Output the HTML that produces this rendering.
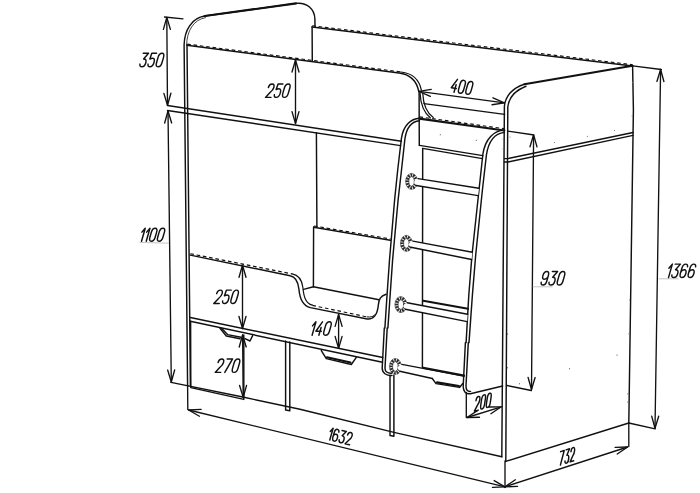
<!DOCTYPE html>
<html><head><meta charset="utf-8"><title>Bunk bed drawing</title>
<style>
html,body{margin:0;padding:0;background:#fff;font-family:"Liberation Sans",sans-serif;}
svg{display:block}
</style></head><body>
<svg width="700" height="493" viewBox="0 0 700 493">
<rect width="700" height="493" fill="#fff"/>
<g fill="none" stroke="#111" stroke-width="1.45" stroke-linecap="round" stroke-linejoin="round">
<path d="M187.6,386 L184.1,45 C184.4,30 192,17.8 204.7,16 L296.1,3.4 C307,2.2 314.6,9 314.9,19 L315.0,26.6"/>
<path d="M186.6,45 C186.8,31 193.5,19.6 205.5,17.6" stroke-width="0.8"/>
<path d="M187.0,45 L190.4,386"/>
<path d="M312.07,27.05 L632.57,66.05" stroke-width="1.5"/>
<path d="M312.23,25.76 L632.73,64.76" stroke-width="1.15" stroke-linecap="butt" stroke-dasharray="3.6 2.8"/>
<path d="M312.1,26.8 L312.3,61"/>
<path d="M187,45.2 L399,72.9 C408,74.0 416.0,78 418.8,91.4" stroke-width="1.5"/>
<path d="M187.2,44.1 L401,72.0" stroke-width="1.15" stroke-linecap="butt" stroke-dasharray="3.6 2.8"/>
<path d="M401,72.0 C411,73.1 418.8,77.5 421.4,90.2" stroke-width="1.25"/>
<path d="M419.1,91.4 L419.3,145.4"/>
<path d="M420,92.8 C420.5,103 424,113 430.5,117.9" stroke-width="1.25"/>
<path d="M422.8,93.7 C423.2,103 426.5,112.5 433.3,117.4" stroke-width="1.25"/>
<path d="M424,103.6 L504.6,114.4"/>
<path d="M167.5,105.5 L401.4,141.3"/>
<path d="M167.5,110.5 L400.6,145.6"/>
<path d="M316.4,132.6 L316.9,226.5"/>
<path d="M313.76,227.25 L390.26,240.25" stroke-width="1.5"/>
<path d="M313.98,225.96 L390.48,238.96" stroke-width="1.15" stroke-linecap="butt" stroke-dasharray="3.6 2.8"/>
<path d="M313.6,227 L313.4,286.8"/>
<path d="M190.3,255.1 L290.1,275.7 C296.5,277 298.3,283 298.9,289 C299.6,297 301.5,305.6 310.4,307.6 L366,318.8 C374,320.4 377.5,314 378.3,305.3 C378.8,299 380.5,296 386.1,294.2"/>
<path d="M190.3,253.7 L292.2,273.9" stroke-width="1.15" stroke-linecap="butt" stroke-dasharray="3.6 2.8"/>
<path d="M292.2,273.9 C299.5,275.3 302,281 302.8,287 C303.6,295 305,303.5 312.4,305.2" stroke-width="1.2"/>
<path d="M312.4,305.4 L367,316.9" stroke-width="1.15" stroke-linecap="butt" stroke-dasharray="3.6 2.8"/>
<path d="M367,316.9 C371,317.5 373.5,316.6 375,314.5" stroke-width="1.0"/>
<path d="M303.6,289.4 L313.4,286.8 L379,299.8"/>
<path d="M190.3,317.5 L382.7,357.5"/>
<path d="M190.3,321.3 L382.4,362.3"/>
<path d="M190.6,321.3 L190.8,387.6 L243.8,399.4 L243.8,335"/>
<path d="M220,328.2 L226.3,336 L240,338.8"/>
<path d="M221.8,328.6 L227.5,334.6 L241,337.2"/>
<path d="M245,338.7 L250,341 L252.6,335.6"/>
<path d="M285.6,341 L285.6,410 L289.8,410.8 L289.8,342"/>
<path d="M321.3,350.6 L326.3,358.6 L351.3,364.5 L356.3,357.4"/>
<path d="M390,375.5 L390,435.5 L393.9,436.2 L393.9,375.3"/>
<path d="M171,382.4 L244,397.3 L300,409.3 L395,432.6 L501.8,456.8"/>
<path d="M419.5,118.3 C411,118.8 403.4,125 401.4,138.5 L397.7,170 L394.6,200 L389.5,260 L386.7,300 L384.9,328 L384.3,328 L382.2,368 C382,373 386.5,375.8 392,375.5"/>
<path d="M419.5,120.8 C412.5,121.4 406.6,127 404.9,139 L401.5,170 L398.1,200 L392.6,260 L389.8,300 L387.9,328 L387.2,328 L385,368 C384.9,371.6 387.5,373.4 391.5,373.2"/>
<path d="M419.27,118.65 L504.37,130.45" stroke-width="2.1"/>
<path d="M419.51,116.91 L504.61,128.71" stroke-width="1.15" stroke-linecap="butt" stroke-dasharray="3.6 2.8"/>
<path d="M419.5,145.4 L482.8,155.6"/>
<path d="M422.7,148.4 L482.4,158.6"/>
<path d="M422.7,148.4 L422.4,367.5"/>
<path d="M504.4,129.9 C494,130.8 485.3,138.5 482.9,154 L479,190 L472,255 L468.8,295 L466.1,342.6 L465.4,342.6 L463.2,386 C463,391.5 466,394.4 470.4,393.7 L502.6,386"/>
<path d="M504.4,132.4 C495.5,133.4 488.6,140.5 486.4,155 L482.4,190 L475.7,255 L472.4,295 L469,342.6 L468.3,342.6 L466,386 C465.9,390 467.5,391.6 470.5,391.4"/>
<ellipse cx="411.59999999999997" cy="181.4" rx="4.4" ry="6.4" stroke="#2a2a2a" stroke-width="3.4" stroke-linecap="butt" stroke-dasharray="1.75 0.9"/>
<ellipse cx="411.59999999999997" cy="181.4" rx="6.0" ry="8.0" stroke="#555" stroke-width="0.6"/>
<ellipse cx="411.59999999999997" cy="181.4" rx="2.8" ry="4.8" stroke="#333" stroke-width="0.7"/>
<path d="M478.9,188.2 L417.1,178.45 Q411.0,182.0 417.1,185.65 L478.2,195.6 Z" fill="#fff" stroke="none"/>
<path d="M418.1,178.6 L478.9,188.2"/>
<path d="M416.1,185.5 L478.2,195.6"/>
<ellipse cx="406.4" cy="243.4" rx="4.4" ry="6.4" stroke="#2a2a2a" stroke-width="3.4" stroke-linecap="butt" stroke-dasharray="1.75 0.9"/>
<ellipse cx="406.4" cy="243.4" rx="6.0" ry="8.0" stroke="#555" stroke-width="0.6"/>
<ellipse cx="406.4" cy="243.4" rx="2.8" ry="4.8" stroke="#333" stroke-width="0.7"/>
<path d="M472.4,252.2 L411.9,240.95 Q405.79999999999995,244.14999999999998 411.9,247.45 L471.6,259.5 Z" fill="#fff" stroke="none"/>
<path d="M412.9,241.1 L472.4,252.2"/>
<path d="M410.9,247.29999999999998 L471.6,259.5"/>
<ellipse cx="400.9" cy="304.6" rx="4.4" ry="6.4" stroke="#2a2a2a" stroke-width="3.4" stroke-linecap="butt" stroke-dasharray="1.75 0.9"/>
<ellipse cx="400.9" cy="304.6" rx="6.0" ry="8.0" stroke="#555" stroke-width="0.6"/>
<ellipse cx="400.9" cy="304.6" rx="2.8" ry="4.8" stroke="#333" stroke-width="0.7"/>
<path d="M467.6,314.2 L406.3,302.65 Q400.2,305.99999999999994 406.3,309.45 L467.2,321.6 Z" fill="#fff" stroke="none"/>
<path d="M407.3,302.79999999999995 L467.6,314.2"/>
<path d="M405.3,309.3 L467.2,321.6"/>
<ellipse cx="395.4" cy="366.5" rx="4.4" ry="6.4" stroke="#2a2a2a" stroke-width="3.4" stroke-linecap="butt" stroke-dasharray="1.75 0.9"/>
<ellipse cx="395.4" cy="366.5" rx="6.0" ry="8.0" stroke="#555" stroke-width="0.6"/>
<ellipse cx="395.4" cy="366.5" rx="2.8" ry="4.8" stroke="#333" stroke-width="0.7"/>
<path d="M464,376.1 L400.8,364.25 Q394.7,367.8 400.8,371.45 L432.3,378.5 Z" fill="#fff" stroke="none"/>
<path d="M401.8,364.4 L464,376.1"/>
<path d="M399.8,371.3 L432.3,378.5"/>
<path d="M432.3,378.5 L436,383.6 L459.5,387.4 L462.8,383.6"/>
<path d="M501.8,456.8 L504.4,106 C505.5,96 513,87.5 524.3,84.2"/>
<path d="M505.8,461.4 L507.8,107 C508.8,98 515,90.5 526,86.2"/>
<path d="M632.6,65.8 L633.4,110 L628.8,423 L505.8,461.4"/>
<path d="M504.4,158.6 L508,158.6 L633,132.5"/>
<path d="M504.4,162 L508,162 L633,135.4"/>
<path d="M507.8,131.1 L532.5,134.8"/>
<path d="M507,385.5 L531.3,390.5"/>
<circle cx="440.3" cy="134.8" r="0.55" fill="#333" stroke="none"/>
<circle cx="476.3" cy="140.2" r="0.55" fill="#333" stroke="none"/>
<circle cx="617" cy="355" r="0.55" fill="#333" stroke="none"/>
<circle cx="569.5" cy="368.8" r="0.55" fill="#333" stroke="none"/>
<circle cx="507.6" cy="334" r="0.55" fill="#333" stroke="none"/>
<circle cx="507.6" cy="367.8" r="0.55" fill="#333" stroke="none"/>
<circle cx="519.5" cy="383.8" r="0.55" fill="#333" stroke="none"/>
<circle cx="632.6" cy="82.5" r="0.6" fill="#777" stroke="none"/>
<circle cx="632.1" cy="116" r="0.6" fill="#777" stroke="none"/>
<circle cx="629.6" cy="300" r="0.6" fill="#777" stroke="none"/>
<circle cx="628.9" cy="333.8" r="0.6" fill="#777" stroke="none"/>
<circle cx="627.6" cy="393.8" r="0.6" fill="#777" stroke="none"/>
<circle cx="627.5" cy="402" r="0.6" fill="#777" stroke="none"/>
<circle cx="503.1" cy="139.1" r="0.6" fill="#777" stroke="none"/>
<circle cx="503.1" cy="148.8" r="0.6" fill="#777" stroke="none"/>
<circle cx="510" cy="137" r="0.6" fill="#777" stroke="none"/>
<circle cx="587.5" cy="136.3" r="0.6" fill="#777" stroke="none"/>
<circle cx="614.5" cy="130.5" r="0.6" fill="#777" stroke="none"/>
<circle cx="554.5" cy="142.5" r="0.6" fill="#777" stroke="none"/>
</g>
<g fill="none" stroke="#111" stroke-width="2.1" stroke-linecap="round" stroke-linejoin="round">
<path d="M204.7,16 L296.1,3.4"/>
<path d="M327,357.2 L350.5,362.6"/>
<path d="M423.2,300.7 L468,308.7"/>
<path d="M423.2,367.7 L464,375.6"/>
<path d="M437,382.4 L459,386"/>
<path d="M524.3,84.2 L632.6,65.8"/>
</g>
<g fill="none" stroke="#111" stroke-width="1.35" stroke-linecap="round" stroke-linejoin="round">
<path d="M164.5,17 L183,18.8"/>
<path d="M166.8,17.4 L167.5,105.3"/><path d="M170.40,29.37 L166.80,17.40 L163.40,29.43"/><path d="M163.90,93.33 L167.50,105.30 L170.90,93.27"/>
<path d="M295.5,60 L295.5,123.6"/><path d="M299.00,72.00 L295.50,60.00 L292.00,72.00"/><path d="M292.00,111.60 L295.50,123.60 L299.00,111.60"/>
<path d="M168,111 L171.3,382"/><path d="M171.65,122.96 L168.00,111.00 L164.65,123.04"/><path d="M167.65,370.04 L171.30,382.00 L174.65,369.96"/>
<path d="M140,242.4 L168.5,243.2" stroke-width="0.7" stroke="#aaa"/>
<path d="M242.5,265.3 L242.5,328.5"/><path d="M246.00,277.30 L242.50,265.30 L239.00,277.30"/><path d="M239.00,316.50 L242.50,328.50 L246.00,316.50"/>
<path d="M242.6,335 L243.2,397.4"/><path d="M246.22,346.97 L242.60,335.00 L239.22,347.03"/><path d="M239.58,385.43 L243.20,397.40 L246.58,385.37"/>
<path d="M338.6,314.4 L338.6,348.4"/><path d="M342.10,326.40 L338.60,314.40 L335.10,326.40"/><path d="M335.10,336.40 L338.60,348.40 L342.10,336.40"/>
<path d="M418.9,91.3 L504.4,102.9"/><path d="M431.26,89.45 L418.90,91.30 L430.32,96.38"/><path d="M492.04,104.75 L504.40,102.90 L492.98,97.82"/>
<path d="M533.6,134.8 L531.5,389.5"/><path d="M537.00,146.83 L533.60,134.80 L530.00,146.77"/><path d="M528.10,377.47 L531.50,389.50 L535.10,377.53"/>
<path d="M533,286.8 L552,286.8" stroke-width="0.7" stroke="#aaa"/>
<path d="M632.6,65.8 L661.3,69.5"/>
<path d="M628.8,423 L655.2,428.8"/>
<path d="M660.6,69.5 L655,428.2"/><path d="M663.91,81.55 L660.60,69.50 L656.91,81.44"/><path d="M651.69,416.15 L655.00,428.20 L658.69,416.26"/>
<path d="M659,278.8 L678,278.8" stroke-width="0.7" stroke="#aaa"/>
<path d="M187.6,386 L187.8,409.5"/>
<path d="M505,461 L505,487.5"/>
<path d="M188.6,410.0 L505,486.8"/><path d="M201.09,409.43 L188.60,410.00 L199.44,416.23"/><path d="M492.51,487.37 L505.00,486.80 L494.16,480.57"/>
<path d="M628.8,423 L628.8,446.5"/>
<path d="M505,486.8 L627.6,447"/><path d="M515.33,479.77 L505.00,486.80 L517.49,486.42"/><path d="M617.27,454.03 L627.60,447.00 L615.11,447.38"/>
<path d="M466.3,392.5 L466.3,417.5"/>
<path d="M467,417.5 L501.3,406.8"/><path d="M477.41,410.59 L467.00,417.50 L479.50,417.27"/><path d="M490.89,413.71 L501.30,406.80 L488.80,407.03"/>
</g>
<g transform="matrix(10.9200,0.0000,-3.8589,13.4577,143.059,53.342)" fill="none" stroke="#111" stroke-width="1.45" stroke-linecap="round" stroke-linejoin="round"><path vector-effect="non-scaling-stroke" transform="translate(0.000,0)" d="M0.02,0 L0.5,0 L0.2,0.42 Q0.5,0.42 0.5,0.7 Q0.5,1 0.25,1 Q0.02,1 0,0.8"/><path vector-effect="non-scaling-stroke" transform="translate(0.740,0)" d="M0.5,0 L0.06,0 L0.03,0.42 Q0.14,0.36 0.27,0.36 Q0.5,0.36 0.5,0.68 Q0.5,1 0.25,1 Q0.02,1 0,0.8"/><path vector-effect="non-scaling-stroke" transform="translate(1.480,0)" d="M0,0.3 Q0,0 0.25,0 Q0.5,0 0.5,0.3 L0.5,0.7 Q0.5,1 0.25,1 Q0,1 0,0.7 Z"/></g>
<g transform="matrix(10.9200,0.0000,-3.8589,13.4577,269.359,83.942)" fill="none" stroke="#111" stroke-width="1.45" stroke-linecap="round" stroke-linejoin="round"><path vector-effect="non-scaling-stroke" transform="translate(0.000,0)" d="M0,0.26 Q0,0 0.25,0 Q0.5,0 0.5,0.26 Q0.5,0.45 0.3,0.62 L0,1 L0.5,1"/><path vector-effect="non-scaling-stroke" transform="translate(0.740,0)" d="M0.5,0 L0.06,0 L0.03,0.42 Q0.14,0.36 0.27,0.36 Q0.5,0.36 0.5,0.68 Q0.5,1 0.25,1 Q0.02,1 0,0.8"/><path vector-effect="non-scaling-stroke" transform="translate(1.480,0)" d="M0,0.3 Q0,0 0.25,0 Q0.5,0 0.5,0.3 L0.5,0.7 Q0.5,1 0.25,1 Q0,1 0,0.7 Z"/></g>
<g transform="matrix(10.5300,0.0000,-3.7211,12.9770,143.021,228.223)" fill="none" stroke="#111" stroke-width="1.45" stroke-linecap="round" stroke-linejoin="round"><path vector-effect="non-scaling-stroke" transform="translate(0.000,0)" d="M0.0,0.3 L0.21,0 L0.21,1"/><path vector-effect="non-scaling-stroke" transform="translate(0.450,0)" d="M0.0,0.3 L0.21,0 L0.21,1"/><path vector-effect="non-scaling-stroke" transform="translate(0.900,0)" d="M0,0.3 Q0,0 0.25,0 Q0.5,0 0.5,0.3 L0.5,0.7 Q0.5,1 0.25,1 Q0,1 0,0.7 Z"/><path vector-effect="non-scaling-stroke" transform="translate(1.640,0)" d="M0,0.3 Q0,0 0.25,0 Q0.5,0 0.5,0.3 L0.5,0.7 Q0.5,1 0.25,1 Q0,1 0,0.7 Z"/></g>
<g transform="matrix(10.9200,0.0000,-3.8589,13.4577,217.659,290.142)" fill="none" stroke="#111" stroke-width="1.45" stroke-linecap="round" stroke-linejoin="round"><path vector-effect="non-scaling-stroke" transform="translate(0.000,0)" d="M0,0.26 Q0,0 0.25,0 Q0.5,0 0.5,0.26 Q0.5,0.45 0.3,0.62 L0,1 L0.5,1"/><path vector-effect="non-scaling-stroke" transform="translate(0.740,0)" d="M0.5,0 L0.06,0 L0.03,0.42 Q0.14,0.36 0.27,0.36 Q0.5,0.36 0.5,0.68 Q0.5,1 0.25,1 Q0.02,1 0,0.8"/><path vector-effect="non-scaling-stroke" transform="translate(1.480,0)" d="M0,0.3 Q0,0 0.25,0 Q0.5,0 0.5,0.3 L0.5,0.7 Q0.5,1 0.25,1 Q0,1 0,0.7 Z"/></g>
<g transform="matrix(10.9200,0.0000,-3.8589,13.4577,219.059,358.942)" fill="none" stroke="#111" stroke-width="1.45" stroke-linecap="round" stroke-linejoin="round"><path vector-effect="non-scaling-stroke" transform="translate(0.000,0)" d="M0,0.26 Q0,0 0.25,0 Q0.5,0 0.5,0.26 Q0.5,0.45 0.3,0.62 L0,1 L0.5,1"/><path vector-effect="non-scaling-stroke" transform="translate(0.740,0)" d="M0,0 L0.5,0 L0.14,1"/><path vector-effect="non-scaling-stroke" transform="translate(1.480,0)" d="M0,0.3 Q0,0 0.25,0 Q0.5,0 0.5,0.3 L0.5,0.7 Q0.5,1 0.25,1 Q0,1 0,0.7 Z"/></g>
<g transform="matrix(10.9200,0.0000,-3.8589,13.4577,313.659,321.842)" fill="none" stroke="#111" stroke-width="1.45" stroke-linecap="round" stroke-linejoin="round"><path vector-effect="non-scaling-stroke" transform="translate(0.000,0)" d="M0.0,0.3 L0.21,0 L0.21,1"/><path vector-effect="non-scaling-stroke" transform="translate(0.450,0)" d="M0.36,0 L0,0.7 L0.5,0.7 M0.38,0.42 L0.38,1"/><path vector-effect="non-scaling-stroke" transform="translate(1.190,0)" d="M0,0.3 Q0,0 0.25,0 Q0.5,0 0.5,0.3 L0.5,0.7 Q0.5,1 0.25,1 Q0,1 0,0.7 Z"/></g>
<g transform="matrix(9.9836,1.5812,-3.6660,12.7848,453.866,78.815)" fill="none" stroke="#111" stroke-width="1.45" stroke-linecap="round" stroke-linejoin="round"><path vector-effect="non-scaling-stroke" transform="translate(0.000,0)" d="M0.36,0 L0,0.7 L0.5,0.7 M0.38,0.42 L0.38,1"/><path vector-effect="non-scaling-stroke" transform="translate(0.740,0)" d="M0,0.3 Q0,0 0.25,0 Q0.5,0 0.5,0.3 L0.5,0.7 Q0.5,1 0.25,1 Q0,1 0,0.7 Z"/><path vector-effect="non-scaling-stroke" transform="translate(1.480,0)" d="M0,0.3 Q0,0 0.25,0 Q0.5,0 0.5,0.3 L0.5,0.7 Q0.5,1 0.25,1 Q0,1 0,0.7 Z"/></g>
<g transform="matrix(10.9200,0.0000,-3.8589,13.4577,544.059,271.542)" fill="none" stroke="#111" stroke-width="1.45" stroke-linecap="round" stroke-linejoin="round"><path vector-effect="non-scaling-stroke" transform="translate(0.000,0)" d="M0.02,0.8 Q0.05,1 0.25,1 Q0.5,1 0.5,0.7 L0.5,0.3 Q0.5,0 0.25,0 Q0,0 0,0.3 Q0,0.58 0.25,0.58 Q0.45,0.58 0.5,0.4"/><path vector-effect="non-scaling-stroke" transform="translate(0.740,0)" d="M0.02,0 L0.5,0 L0.2,0.42 Q0.5,0.42 0.5,0.7 Q0.5,1 0.25,1 Q0.02,1 0,0.8"/><path vector-effect="non-scaling-stroke" transform="translate(1.480,0)" d="M0,0.3 Q0,0 0.25,0 Q0.5,0 0.5,0.3 L0.5,0.7 Q0.5,1 0.25,1 Q0,1 0,0.7 Z"/></g>
<g transform="matrix(10.9200,0.0000,-3.8589,13.4577,670.059,264.142)" fill="none" stroke="#111" stroke-width="1.45" stroke-linecap="round" stroke-linejoin="round"><path vector-effect="non-scaling-stroke" transform="translate(0.000,0)" d="M0.0,0.3 L0.21,0 L0.21,1"/><path vector-effect="non-scaling-stroke" transform="translate(0.450,0)" d="M0.02,0 L0.5,0 L0.2,0.42 Q0.5,0.42 0.5,0.7 Q0.5,1 0.25,1 Q0.02,1 0,0.8"/><path vector-effect="non-scaling-stroke" transform="translate(1.190,0)" d="M0.48,0.2 Q0.45,0 0.25,0 Q0,0 0,0.3 L0,0.7 Q0,1 0.25,1 Q0.5,1 0.5,0.7 Q0.5,0.42 0.25,0.42 Q0.05,0.42 0,0.6"/><path vector-effect="non-scaling-stroke" transform="translate(1.930,0)" d="M0.48,0.2 Q0.45,0 0.25,0 Q0,0 0,0.3 L0,0.7 Q0,1 0.25,1 Q0.5,1 0.5,0.7 Q0.5,0.42 0.25,0.42 Q0.05,0.42 0,0.6"/></g>
<g transform="matrix(8.8972,2.1360,-3.3628,11.7274,331.263,427.873)" fill="none" stroke="#111" stroke-width="1.45" stroke-linecap="round" stroke-linejoin="round"><path vector-effect="non-scaling-stroke" transform="translate(0.000,0)" d="M0.0,0.3 L0.21,0 L0.21,1"/><path vector-effect="non-scaling-stroke" transform="translate(0.450,0)" d="M0.48,0.2 Q0.45,0 0.25,0 Q0,0 0,0.3 L0,0.7 Q0,1 0.25,1 Q0.5,1 0.5,0.7 Q0.5,0.42 0.25,0.42 Q0.05,0.42 0,0.6"/><path vector-effect="non-scaling-stroke" transform="translate(1.190,0)" d="M0.02,0 L0.5,0 L0.2,0.42 Q0.5,0.42 0.5,0.7 Q0.5,1 0.25,1 Q0.02,1 0,0.8"/><path vector-effect="non-scaling-stroke" transform="translate(1.930,0)" d="M0,0.26 Q0,0 0.25,0 Q0.5,0 0.5,0.26 Q0.5,0.45 0.3,0.62 L0,1 L0.5,1"/></g>
<g transform="matrix(7.2185,-2.3454,-1.2027,13.7475,560.603,451.653)" fill="none" stroke="#111" stroke-width="1.45" stroke-linecap="round" stroke-linejoin="round"><path vector-effect="non-scaling-stroke" transform="translate(0.000,0)" d="M0,0 L0.5,0 L0.14,1"/><path vector-effect="non-scaling-stroke" transform="translate(0.740,0)" d="M0.02,0 L0.5,0 L0.2,0.42 Q0.5,0.42 0.5,0.7 Q0.5,1 0.25,1 Q0.02,1 0,0.8"/><path vector-effect="non-scaling-stroke" transform="translate(1.480,0)" d="M0,0.26 Q0,0 0.25,0 Q0.5,0 0.5,0.26 Q0.5,0.45 0.3,0.62 L0,1 L0.5,1"/></g>
<g transform="matrix(7.6978,-2.2073,-2.1137,14.1429,476.514,397.057)" fill="none" stroke="#111" stroke-width="1.45" stroke-linecap="round" stroke-linejoin="round"><path vector-effect="non-scaling-stroke" transform="translate(0.000,0)" d="M0,0.26 Q0,0 0.25,0 Q0.5,0 0.5,0.26 Q0.5,0.45 0.3,0.62 L0,1 L0.5,1"/><path vector-effect="non-scaling-stroke" transform="translate(0.740,0)" d="M0,0.3 Q0,0 0.25,0 Q0.5,0 0.5,0.3 L0.5,0.7 Q0.5,1 0.25,1 Q0,1 0,0.7 Z"/><path vector-effect="non-scaling-stroke" transform="translate(1.480,0)" d="M0,0.3 Q0,0 0.25,0 Q0.5,0 0.5,0.3 L0.5,0.7 Q0.5,1 0.25,1 Q0,1 0,0.7 Z"/></g>
</svg>
</body></html>
